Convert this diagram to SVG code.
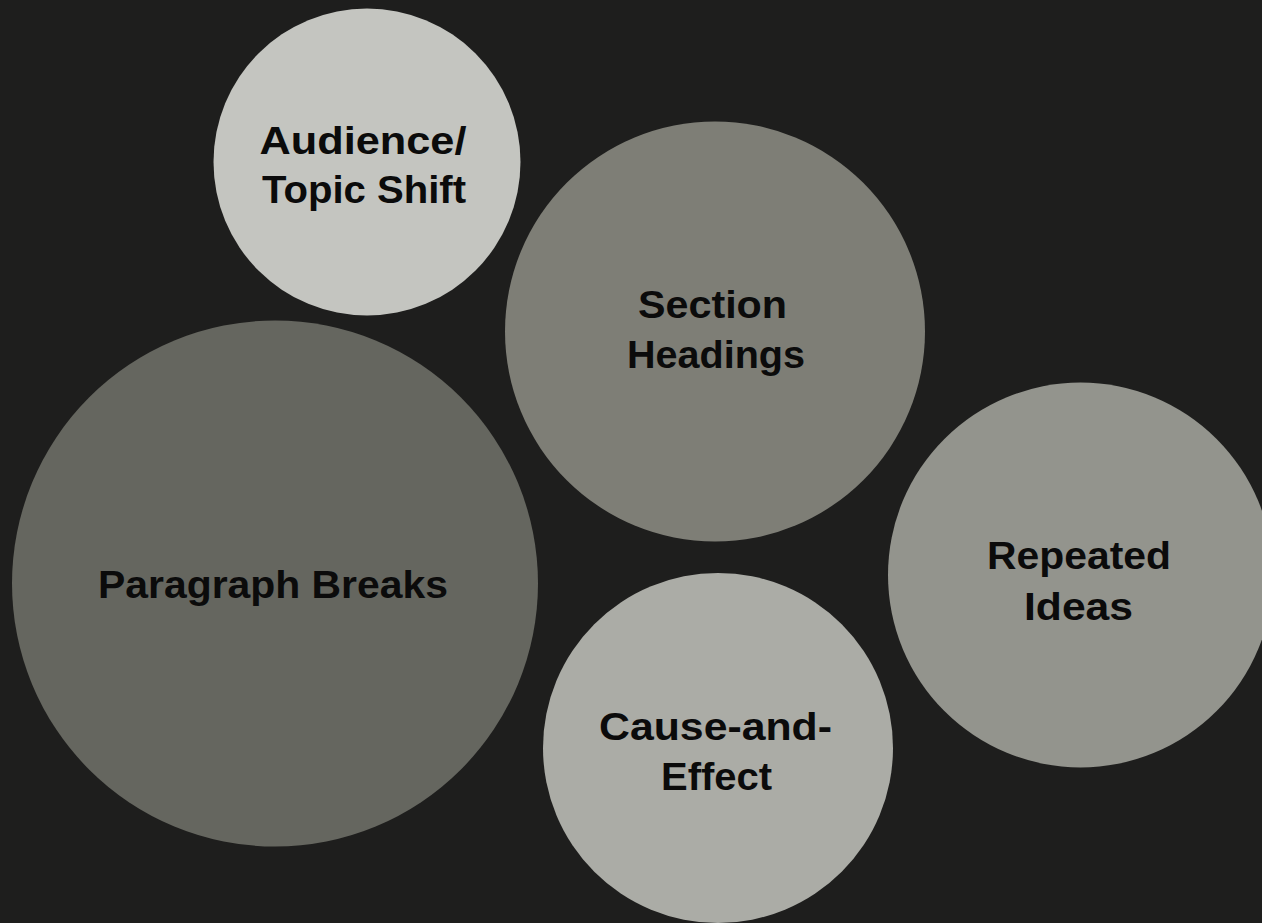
<svg xmlns="http://www.w3.org/2000/svg" width="1262" height="923" viewBox="0 0 1262 923">
<style>
.lbl{font-family:"Liberation Sans","DejaVu Sans",sans-serif;font-weight:bold;font-size:38px;fill:#0b0b0b;text-anchor:middle}
</style>
<rect x="0" y="0" width="1262" height="923" fill="#1e1e1d"/>
<g id="connectors"></g>
<g id="node-audience">
<circle cx="367" cy="162" r="153.5" fill="#c4c5c0"/>
<text class="lbl" x="363" y="154" textLength="207" lengthAdjust="spacingAndGlyphs">Audience/</text>
<text class="lbl" x="364" y="203" textLength="204" lengthAdjust="spacingAndGlyphs">Topic Shift</text>
</g>
<g id="node-section">
<circle cx="715" cy="331.5" r="210" fill="#7e7e76"/>
<text class="lbl" x="712.5" y="318" textLength="149" lengthAdjust="spacingAndGlyphs">Section</text>
<text class="lbl" x="716" y="368" textLength="178" lengthAdjust="spacingAndGlyphs">Headings</text>
</g>
<g id="node-paragraph">
<circle cx="275" cy="583.5" r="263" fill="#65665f"/>
<text class="lbl" x="273" y="598" textLength="350" lengthAdjust="spacingAndGlyphs">Paragraph Breaks</text>
</g>
<g id="node-repeated">
<circle cx="1080.5" cy="575" r="192.5" fill="#93948d"/>
<text class="lbl" x="1079" y="569" textLength="184" lengthAdjust="spacingAndGlyphs">Repeated</text>
<text class="lbl" x="1078.5" y="620" textLength="109" lengthAdjust="spacingAndGlyphs">Ideas</text>
</g>
<g id="node-cause">
<circle cx="718" cy="748" r="175" fill="#abaca6"/>
<text class="lbl" x="715.5" y="740" textLength="233" lengthAdjust="spacingAndGlyphs">Cause-and-</text>
<text class="lbl" x="716.5" y="790" textLength="111" lengthAdjust="spacingAndGlyphs">Effect</text>
</g>
</svg>
